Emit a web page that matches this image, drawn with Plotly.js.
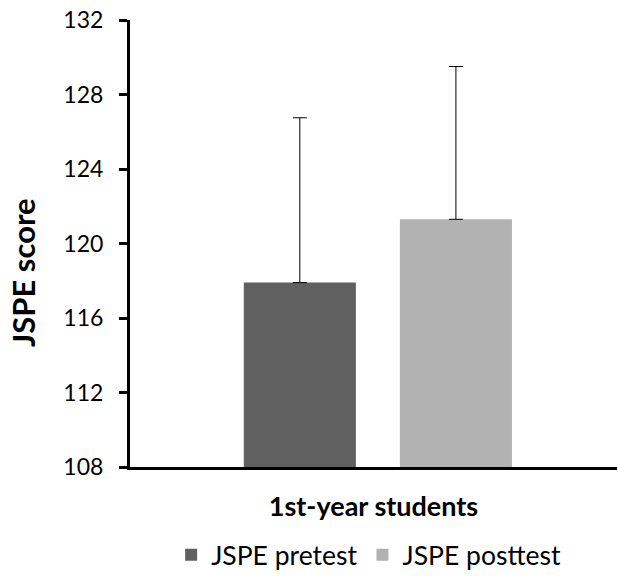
<!DOCTYPE html>
<html>
<head>
<meta charset="utf-8">
<script src="https://cdn.plot.ly/plotly-3.0.1.min.js"></script>
<style>html,body{margin:0;padding:0;background:#fff;}#chart{width:618px;height:580px;}</style>
</head>
<body>
<div id="chart"></div>
<script>
var categories = ["1st-year students"];
var seriesNames = ["JSPE pretest", "JSPE posttest"];
var pretestValues = [117.9];
var posttestValues = [121.3];
var pretestSD = [8.85];
var posttestSD = [8.2];
var yTicks = [108, 112, 116, 120, 124, 128, 132];
var yTitle = "JSPE score";
var xTitle = "1st-year students";

var FONT = "Lato, 'Open Sans', sans-serif";

var traces = [
  {
    type: "bar", name: seriesNames[0], x: categories, y: pretestValues,
    marker: {color: "#606060"},
    error_y: {type: "data", symmetric: false, array: pretestSD, arrayminus: [0], color: "#000", thickness: 1, width: 7}
  },
  {
    type: "bar", name: seriesNames[1], x: categories, y: posttestValues,
    marker: {color: "#b2b2b2"},
    error_y: {type: "data", symmetric: false, array: posttestSD, arrayminus: [0], color: "#000", thickness: 1, width: 7}
  }
];

var layout = {
  width: 618, height: 580,
  margin: {l: 130, r: 1, t: 20, b: 113},
  paper_bgcolor: "#fff", plot_bgcolor: "#fff",
  font: {family: FONT, color: "#000"},
  barmode: "group",
  bargap: 0.359,
  bargroupgap: 0.282,
  showlegend: true,
  legend: {orientation: "h", x: 0.49, xanchor: "center", y: -0.197, yanchor: "middle",
           font: {size: 26.5, family: FONT, color: "#000"}, itemwidth: 30, traceorder: "normal"},
  xaxis: {
    type: "category", range: [-0.509, 0.491],
    showticklabels: false, ticks: "", showgrid: false, zeroline: false,
    showline: true, linecolor: "#000", linewidth: 3,
    title: {text: "<b>" + xTitle + "</b>", font: {size: 27, family: FONT, color: "#000"}, standoff: 29}
  },
  yaxis: {
    range: [108, 132], tickvals: yTicks, ticktext: yTicks.map(String),
    ticks: "outside", ticklen: 8, tickwidth: 3, tickcolor: "#000",
    showline: true, linecolor: "#000", linewidth: 3,
    showgrid: false, zeroline: false,
    tickfont: {size: 23, family: FONT, color: "#000"},
    ticklabelstandoff: 11
  },
  annotations: [{
    text: "<b>" + yTitle + "</b>", textangle: -90, showarrow: false,
    xref: "paper", yref: "paper", x: -0.2197, y: 0.434, xanchor: "center", yanchor: "middle",
    font: {size: 31, family: FONT, color: "#000"}
  }]
};

Plotly.newPlot("chart", traces, layout, {displayModeBar: false, staticPlot: true});
</script>
</body>
</html>
